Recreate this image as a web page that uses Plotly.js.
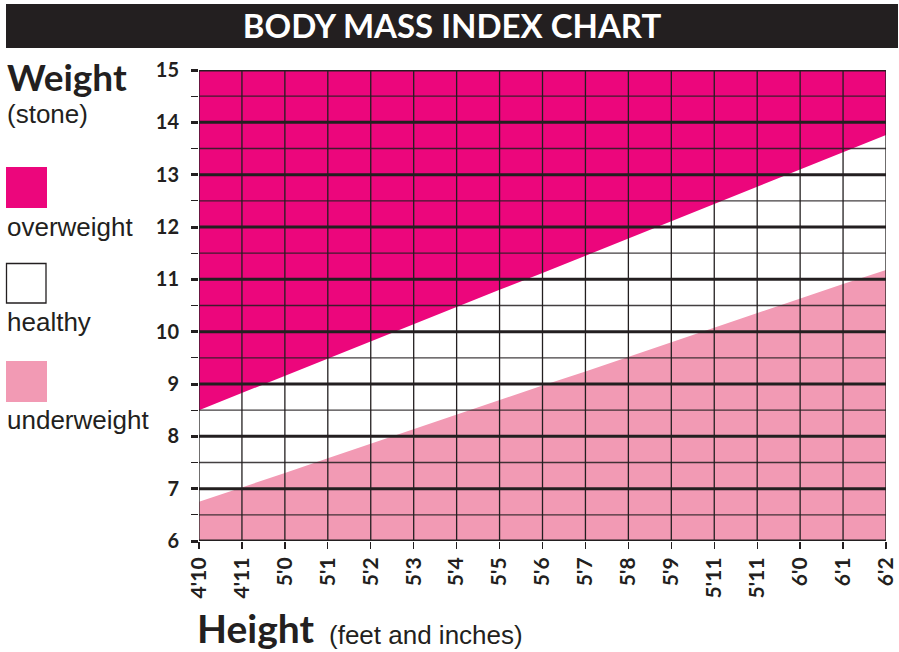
<!DOCTYPE html>
<html>
<head>
<meta charset="utf-8">
<script src="https://cdn.plot.ly/plotly-3.0.1.min.js"></script>
<style>html,body{margin:0;padding:0;background:#fff;}#chart{width:899px;height:652px;}</style>
</head>
<body>
<div id="chart"></div>
<script>
// ---- data ----
const heightLabels = ["4'10","4'11","5'0","5'1","5'2","5'3","5'4","5'5","5'6","5'7","5'8","5'9","5'11","5'11","6'0","6'1","6'2"];
const overweightFrom = [8.50, 8.83, 9.16, 9.48, 9.81, 10.14, 10.47, 10.80, 11.12, 11.45, 11.78, 12.11, 12.44, 12.77, 13.09, 13.42, 13.76];
const underweightTo  = [6.75, 7.02, 7.30, 7.58, 7.86, 8.14, 8.41, 8.69, 8.97, 9.24, 9.52, 9.80, 10.07, 10.35, 10.63, 10.91, 11.18];
const weightMajor = [6, 7, 8, 9, 10, 11, 12, 13, 14, 15];
const weightMinor = [6.5, 7.5, 8.5, 9.5, 10.5, 11.5, 12.5, 13.5, 14.5];
const categories = ["overweight", "healthy", "underweight"];

// ---- styling ----
const DARK = '#231f20';
const OVER = '#ec067c';
const UNDER = '#f29ab4';
const W = 899, H = 652;
const M = {l: 199, r: 13, t: 70, b: 111};
const PW = W - M.l - M.r, PH = H - M.t - M.b;
const px = v => (v - M.l) / PW;          // pixel -> paper x
const py = v => (H - M.b - v) / PH;      // pixel -> paper y

const xs = heightLabels.map((_, i) => i);
const xMax = xs[xs.length - 1];
const yMin = weightMajor[0], yMax = weightMajor[weightMajor.length - 1];

const traces = [];
// underweight area
traces.push({
  x: xs, y: underweightTo, type: 'scatter', mode: 'lines',
  line: {width: 0, color: UNDER}, fill: 'tozeroy', fillcolor: UNDER,
  hoverinfo: 'skip', showlegend: false
});
// overweight area (closed up to the top of the axis)
traces.push({
  x: xs.concat([xMax, 0]), y: overweightFrom.concat([yMax, yMax]),
  type: 'scatter', mode: 'lines', line: {width: 0, color: OVER},
  fill: 'toself', fillcolor: OVER, hoverinfo: 'skip', showlegend: false
});

// grid drawn above the fills
const vx = [], vy = [];
xs.forEach(i => { vx.push(i, i, null); vy.push(yMin, yMax, null); });
traces.push({x: vx, y: vy, type: 'scatter', mode: 'lines', line: {color: DARK, width: 1.3}, hoverinfo: 'skip', showlegend: false});
const mnx = [], mny = [];
weightMinor.forEach(v => { mnx.push(0, xMax, null); mny.push(v, v, null); });
traces.push({x: mnx, y: mny, type: 'scatter', mode: 'lines', line: {color: DARK, width: 1.3}, opacity: 0.85, hoverinfo: 'skip', showlegend: false});
const mjx = [], mjy = [];
weightMajor.forEach(v => { mjx.push(0, xMax, null); mjy.push(v, v, null); });
traces.push({x: mjx, y: mjy, type: 'scatter', mode: 'lines', line: {color: DARK, width: 3}, hoverinfo: 'skip', showlegend: false, cliponaxis: false});

const boldFont = {family: 'Lato, Open Sans, sans-serif', color: DARK, weight: 'bold'};
const plainFont = {family: 'Liberation Sans, Arial, sans-serif', color: DARK};

const layout = {
  width: W, height: H,
  margin: M,
  paper_bgcolor: '#fff', plot_bgcolor: '#fff',
  showlegend: false,
  title: {
    text: 'BODY MASS INDEX CHART',
    font: Object.assign({}, boldFont, {size: 33, color: '#ffffff'}),
    x: 452 / W, xanchor: 'center', xref: 'container',
    y: 1 - 26 / H, yanchor: 'middle', yref: 'container'
  },
  xaxis: {
    range: [0, xMax], showgrid: false, zeroline: false, showline: false,
    tickmode: 'array', tickvals: xs, ticktext: heightLabels, tickangle: -90,
    ticks: 'outside', ticklen: 7, tickwidth: 1.3, tickcolor: DARK,
    tickfont: Object.assign({}, boldFont, {size: 21}),
    fixedrange: true
  },
  yaxis: {
    range: [yMin, yMax], showgrid: false, zeroline: false, showline: false,
    tickmode: 'array', tickvals: weightMajor, ticktext: weightMajor.map(String),
    ticks: 'outside', ticklen: 7, tickwidth: 3, tickcolor: DARK,
    ticklabelstandoff: 8,
    tickfont: Object.assign({}, boldFont, {size: 20}),
    minor: {tickmode: 'array', tickvals: weightMinor, ticks: 'outside', ticklen: 7, tickwidth: 1.3, tickcolor: DARK, showgrid: false},
    fixedrange: true
  },
  shapes: [
    // title bar
    {type: 'rect', xref: 'paper', yref: 'paper', x0: px(6), x1: px(898), y0: py(48), y1: py(4),
     fillcolor: DARK, line: {width: 0}, layer: 'below'},
    // legend swatches
    {type: 'rect', xref: 'paper', yref: 'paper', x0: px(6), x1: px(47), y0: py(208), y1: py(167), fillcolor: OVER, line: {width: 0}},
    {type: 'rect', xref: 'paper', yref: 'paper', x0: px(6.5), x1: px(46), y0: py(303), y1: py(263.5), fillcolor: '#ffffff', line: {width: 1.3, color: DARK}},
    {type: 'rect', xref: 'paper', yref: 'paper', x0: px(6), x1: px(47), y0: py(402), y1: py(361), fillcolor: UNDER, line: {width: 0}}
  ],
  annotations: [
    {text: 'Weight', xref: 'paper', yref: 'paper', x: px(5), y: py(76), xanchor: 'left', yanchor: 'middle', showarrow: false,
     font: Object.assign({}, boldFont, {size: 37})},
    {text: '(stone)', xref: 'paper', yref: 'paper', x: px(5), y: py(114), xanchor: 'left', yanchor: 'middle', showarrow: false,
     font: Object.assign({}, plainFont, {size: 26})},
    {text: categories[0], xref: 'paper', yref: 'paper', x: px(5), y: py(227), xanchor: 'left', yanchor: 'middle', showarrow: false,
     font: Object.assign({}, plainFont, {size: 26})},
    {text: categories[1], xref: 'paper', yref: 'paper', x: px(5), y: py(322), xanchor: 'left', yanchor: 'middle', showarrow: false,
     font: Object.assign({}, plainFont, {size: 26})},
    {text: categories[2], xref: 'paper', yref: 'paper', x: px(5), y: py(420), xanchor: 'left', yanchor: 'middle', showarrow: false,
     font: Object.assign({}, plainFont, {size: 26})},
    {text: 'Height', xref: 'paper', yref: 'paper', x: px(195), y: py(628), xanchor: 'left', yanchor: 'middle', showarrow: false,
     font: Object.assign({}, boldFont, {size: 39})},
    {text: '(feet and inches)', xref: 'paper', yref: 'paper', x: px(327), y: py(635), xanchor: 'left', yanchor: 'middle', showarrow: false,
     font: Object.assign({}, plainFont, {size: 26})}
  ]
};

Plotly.newPlot('chart', traces, layout, {displayModeBar: false, staticPlot: true});
</script>
</body>
</html>
